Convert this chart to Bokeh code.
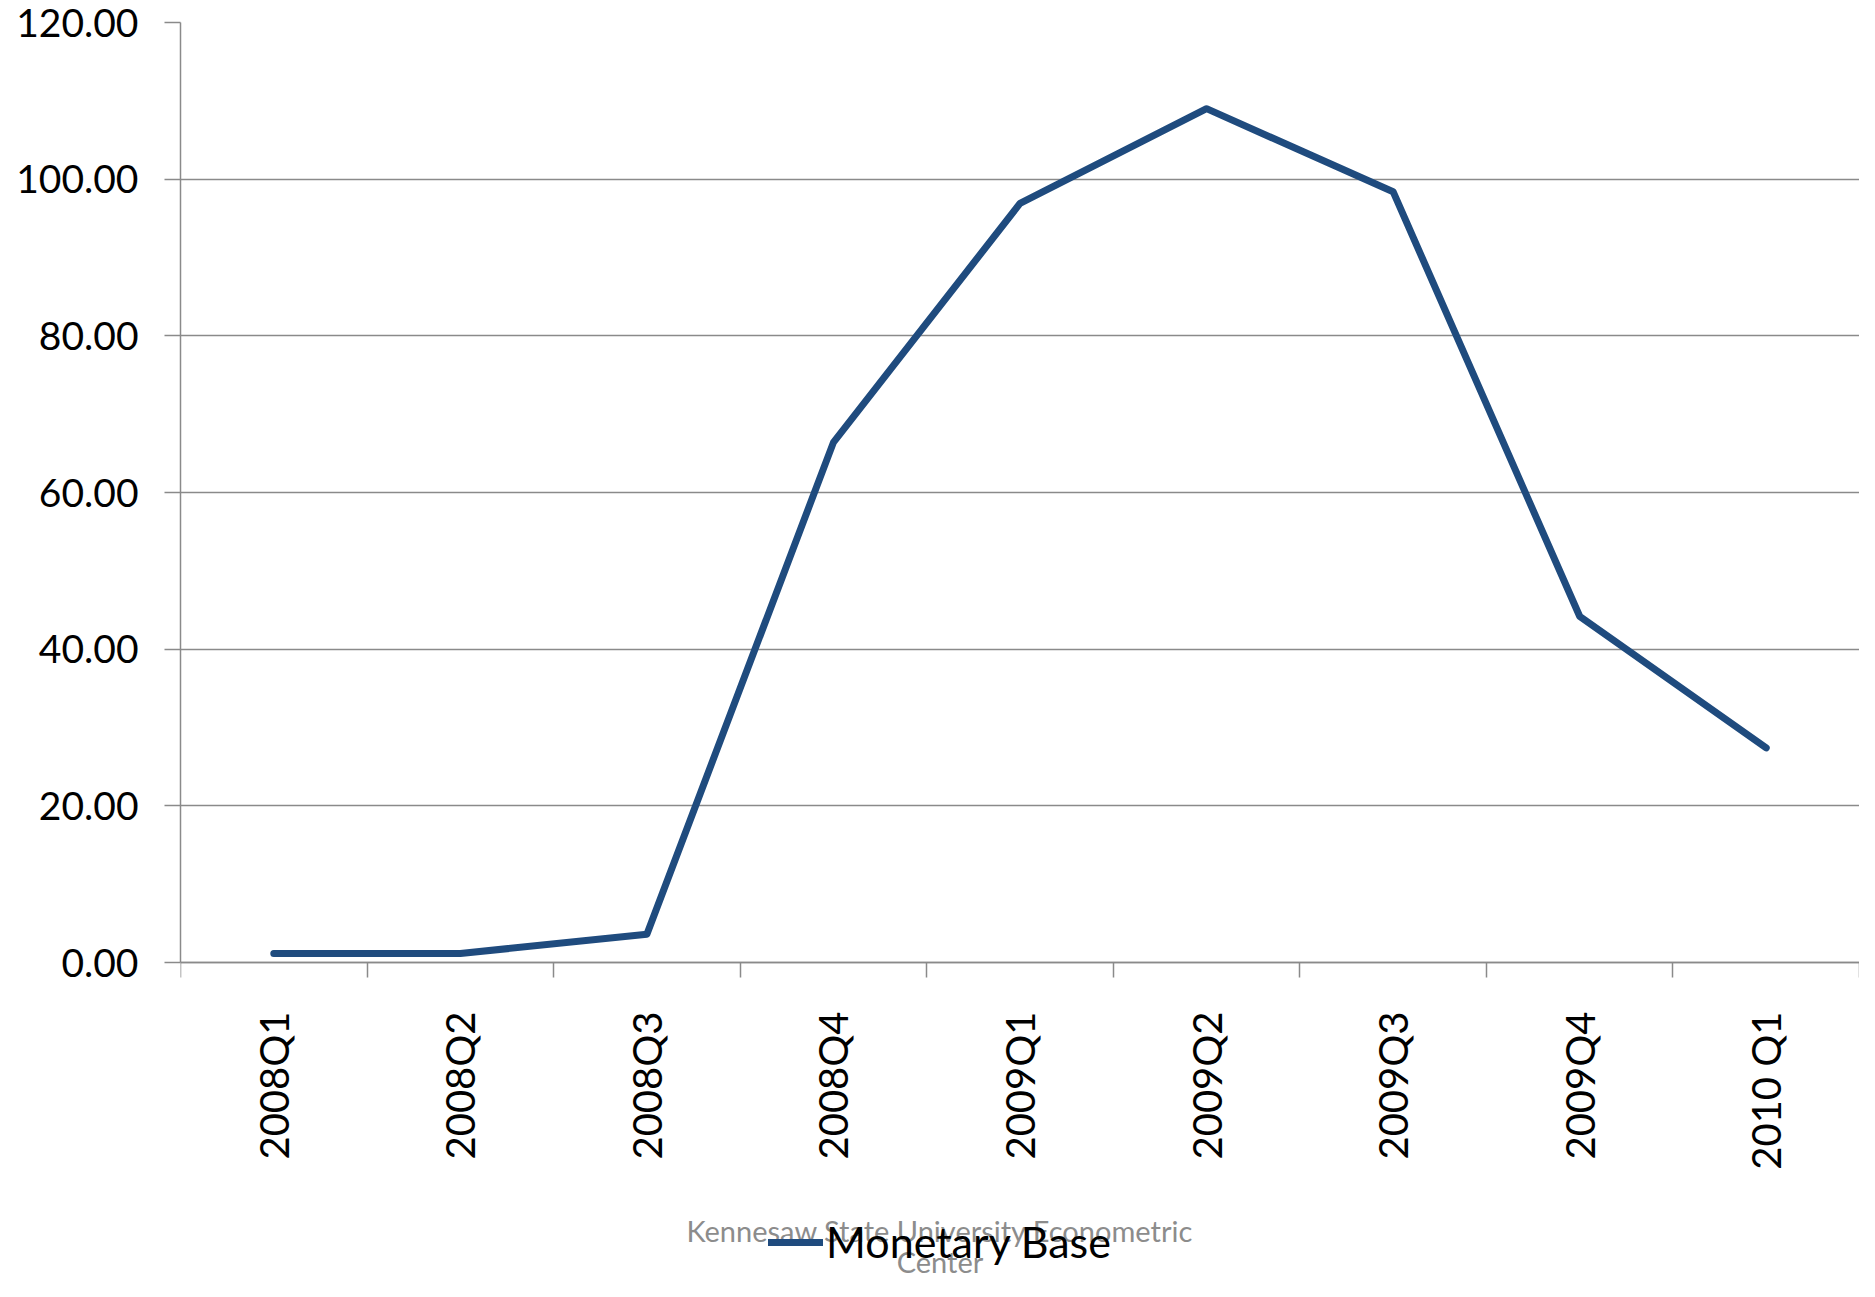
import math
from bokeh.plotting import figure
from bokeh.models import (Range1d, FixedTicker, NumeralTickFormatter, Legend,
                          LegendItem, Label, ColumnDataSource)
from bokeh.embed import file_html
from bokeh.resources import INLINE

# ---- data ----
quarters = ["2008Q1", "2008Q2", "2008Q3", "2008Q4", "2009Q1",
            "2009Q2", "2009Q3", "2009Q4", "2010 Q1"]
monetary_base = [1.15, 1.15, 3.6, 66.4, 96.9, 109.0, 98.4, 44.2, 27.4]
y_ticks = [0, 20, 40, 60, 80, 100, 120]
series_name = "Monetary Base"
watermark_lines = ["Kennesaw State University Econometric", "Center"]

FONT = "Lato"
LINE_COLOR = "#1F4B7E"
GRID_COLOR = "#8A8A8A"

# ---- layout (pixels) ----
W, H = 1859, 1281
TOP = 22                 # frame top (canvas px)  -> value 120
ZERO = 962               # canvas px of value 0
PX_PER_UNIT = (ZERO - TOP) / (y_ticks[-1] - y_ticks[0])
y_bottom = -(H - ZERO) / PX_PER_UNIT   # frame extends to bottom of canvas

n = len(quarters)
centers = [i + 0.5 for i in range(n)]
source = ColumnDataSource(dict(x=centers, y=monetary_base, q=quarters))

p = figure(width=W, height=H, output_backend="svg", toolbar_location=None,
           x_range=Range1d(0, n), y_range=Range1d(y_bottom, y_ticks[-1]),
           min_border_left=180, min_border_right=0, min_border_top=TOP,
           min_border_bottom=0)
p.outline_line_color = None
p.background_fill_color = "white"
p.border_fill_color = "white"

r = p.line("x", "y", source=source, line_color=LINE_COLOR, line_width=7,
           line_join="round", line_cap="round")

# x axis: labels at category centres, tick marks at category boundaries
xa = p.xaxis[0]
xa.fixed_location = 0
xa.ticker = FixedTicker(ticks=centers, minor_ticks=list(range(n + 1)))
xa.major_label_overrides = {c: q for c, q in zip(centers, quarters)}
xa.major_label_orientation = math.pi / 2
xa.major_tick_line_color = None
xa.major_tick_out = 15
xa.major_tick_in = 0
xa.minor_tick_line_color = GRID_COLOR
xa.minor_tick_line_width = 1.5
xa.minor_tick_out = 15
xa.minor_tick_in = 0
xa.axis_line_color = GRID_COLOR
xa.axis_line_width = 1.5
xa.major_label_standoff = 34
xa.major_label_text_font = FONT
xa.major_label_text_font_size = "40px"
xa.major_label_text_color = "black"

ya = p.yaxis[0]
ya.bounds = (y_ticks[0], y_ticks[-1])
ya.ticker = FixedTicker(ticks=y_ticks)
ya.formatter = NumeralTickFormatter(format="0.00")
ya.major_tick_out = 16
ya.major_tick_in = 0
ya.major_tick_line_color = GRID_COLOR
ya.major_tick_line_width = 1.5
ya.minor_tick_line_color = None
ya.axis_line_color = GRID_COLOR
ya.axis_line_width = 1.5
ya.major_label_standoff = 26
ya.major_label_text_font = FONT
ya.major_label_text_font_size = "39px"
ya.major_label_text_color = "black"

p.xgrid.grid_line_color = None
p.ygrid.grid_line_color = GRID_COLOR
p.ygrid.grid_line_width = 1.5

# watermark text (gray, behind legend), centred slightly right of figure centre
x_mid = (W / 2 + 10 - 180) / ((W - 180) / n)
for i, t in enumerate(watermark_lines):
    p.add_layout(Label(x=x_mid, y=-(268 + 31 * i) / PX_PER_UNIT,
                       text=t, text_align="center", text_baseline="middle",
                       text_font=FONT, text_font_size="29px", text_color="#8C8C8C"))

legend = Legend(items=[LegendItem(label=series_name, renderers=[r])],
                location=(588, 14), orientation="horizontal",
                glyph_width=55, glyph_height=40, label_height=40,
                label_standoff=3, padding=0, margin=0, spacing=0,
                border_line_color=None, background_fill_alpha=0,
                label_text_font=FONT, label_text_font_size="43px",
                label_text_color="black")
p.add_layout(legend, "center")

open("out.html", "w").write(file_html(p, INLINE))
